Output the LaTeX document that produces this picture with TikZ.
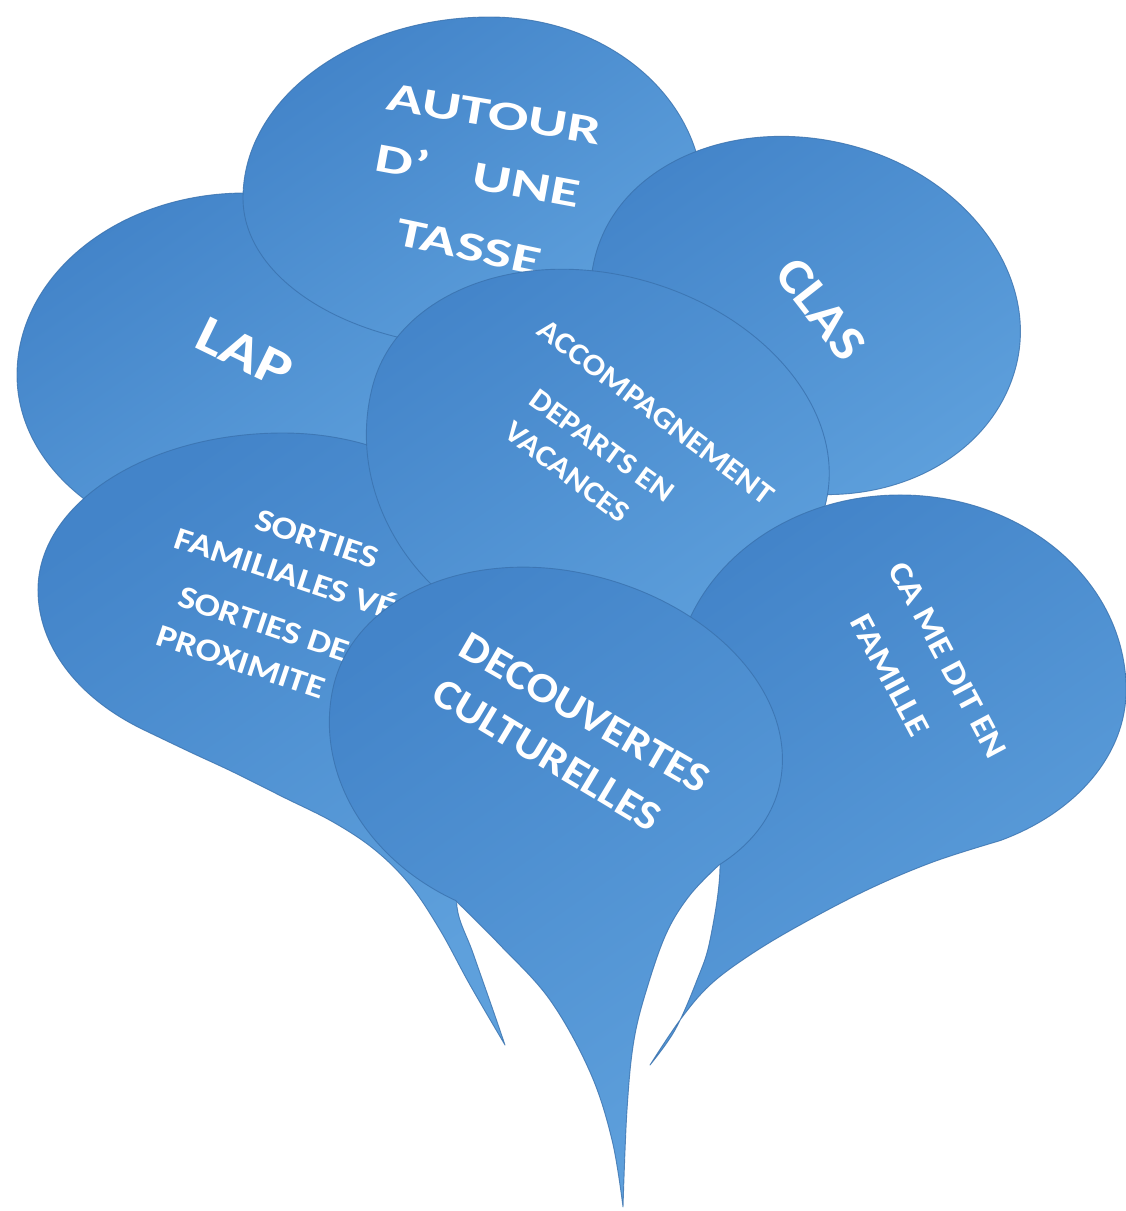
\documentclass[tikz,border=0pt]{standalone}
\usepackage{fontspec}
\setmainfont{Carlito}
\definecolor{bubDark}{HTML}{4384C9}
\definecolor{bubLight}{HTML}{5EA0DC}
\definecolor{bubEdge}{HTML}{3A72AE}
\newcommand\fsz[1]{\fontsize{#1}{#1}\selectfont\bfseries}
\begin{document}
\begin{tikzpicture}[x=1pt,y=-1pt,
  bubble/.style={top color=bubDark, bottom color=bubLight, shading angle=35,
                 draw=bubEdge, draw opacity=0.8, line width=0.9pt, line join=round},
  lbl/.style={text=white, inner sep=0pt, outer sep=0pt}]
\useasboundingbox (0,0) rectangle (1126,1211);
\fill[white] (0,0) rectangle (1126,1211);

% ---------- LAP
\path[bubble] (473,375)
  arc[start angle=0,end angle=90,x radius=228pt,y radius=182pt]
  arc[start angle=90,end angle=180,x radius=228pt,y radius=182pt]
  arc[start angle=180,end angle=270,x radius=228pt,y radius=175pt]
  arc[start angle=270,end angle=360,x radius=228pt,y radius=175pt] -- cycle;
\node[lbl, rotate=-26, yscale=0.83, font=\fsz{64}] (lap) at (245,353) {LAP};

% ---------- AUTOUR D'UNE TASSE
\path[bubble] (703,198)
  arc[start angle=0,end angle=90,x radius=213pt,y radius=181pt]
  arc[start angle=90,end angle=180,x radius=247pt,y radius=181pt]
  arc[start angle=180,end angle=270,x radius=247pt,y radius=150pt]
  arc[start angle=270,end angle=360,x radius=213pt,y radius=150pt] -- cycle;
\node[lbl, rotate=-9.5, yscale=0.68, font=\fsz{60}] (aut1) at (494,114) {AUTOUR};
\node[lbl, rotate=-10.5, yscale=0.68, font=\fsz{60}] (aut2) at (478,175) {D’\hspace{0.75em}UNE};
\node[lbl, rotate=-12, yscale=0.68, font=\fsz{60}] (aut3) at (469,247) {TASSE};

% ---------- CLAS
\path[bubble, rotate around={-15:(808,312)}] (1023,312)
  arc[start angle=0,end angle=90,x radius=215pt,y radius=172pt]
  arc[start angle=90,end angle=180,x radius=220pt,y radius=172pt]
  arc[start angle=180,end angle=270,x radius=220pt,y radius=180pt]
  arc[start angle=270,end angle=360,x radius=215pt,y radius=180pt] -- cycle;
\node[lbl, rotate=-52, yscale=0.9, font=\fsz{56}] (clas) at (821,309) {CLAS};

% ---------- SORTIES
\path[bubble] (473.5,670)
  arc[start angle=330,end angle=360,x radius=220pt,y radius=160pt]
  arc[start angle=0,end angle=90,x radius=220pt,y radius=157pt]
  arc[start angle=90,end angle=180,x radius=245pt,y radius=157pt]
  arc[start angle=180,end angle=235,x radius=245pt,y radius=170pt]
  -- plot[smooth, tension=0.6] coordinates {(142.5,729.3) (190,752) (233,772) (283,797) (333,822) (375,850) (410,885) (440,930) (470,985) (505,1045)}
  -- plot[smooth, tension=0.6] coordinates {(505,1045) (493,1010) (473,953) (457,907) (462,860)} -- cycle;
\node[lbl, rotate=-18.5, yscale=0.85, font=\fsz{37.5}] (so1) at (317,539) {SORTIES};
\node[lbl, rotate=-18.5, yscale=0.85, font=\fsz{37.5}] (so2) at (286,571) {FAMILIALES VÉ};
\node[lbl, rotate=-18.5, yscale=0.85, font=\fsz{37.5}] (so3) at (264,624) {SORTIES DE};
\node[lbl, rotate=-18.5, yscale=0.85, font=\fsz{37.5}] (so4) at (241,662) {PROXIMITE};

% ---------- ACCOMPAGNEMENT
\path[bubble, rotate around={-15:(597,445)}] (833,445)
  arc[start angle=0,end angle=90,x radius=236pt,y radius=171pt]
  arc[start angle=90,end angle=180,x radius=232pt,y radius=171pt]
  arc[start angle=180,end angle=270,x radius=232pt,y radius=210pt]
  arc[start angle=270,end angle=360,x radius=236pt,y radius=210pt] -- cycle;
\node[lbl, rotate=-37, yscale=0.9, font=\fsz{33.5}] (acc1) at (656,412) {ACCOMPAGNEMENT};
\node[lbl, rotate=-36, yscale=0.9, font=\fsz{33.5}] (acc2) at (602,446) {DEPARTS EN};
\node[lbl, rotate=-37, yscale=0.9, font=\fsz{33.5}] (acc3) at (567,472) {VACANCES};

% ---------- CA ME DIT EN FAMILLE
\path[bubble] (999.9,840.7)
  arc[start angle=296.2,end angle=360,x radius=226pt,y radius=168pt]
  arc[start angle=0,end angle=90,x radius=226pt,y radius=195pt]
  arc[start angle=90,end angle=180,x radius=226pt,y radius=195pt]
  arc[start angle=180,end angle=200,x radius=226pt,y radius=150pt]
  -- plot[smooth, tension=0.6] coordinates {(687.6,741.3) (712,800) (720,867) (710,940) (697,980) (675,1030) (650,1065)}
  -- plot[smooth, tension=0.6] coordinates {(650,1065) (680,1020) (710,985) (750,955) (800,925) (867,890) (933,862) (999.9,840.7)} -- cycle;
\node[lbl, rotate=-62, yscale=0.85, font=\fsz{38}] (ca1) at (948,660) {CA ME DIT EN};
\node[lbl, rotate=-62, yscale=0.85, font=\fsz{38}] (ca2) at (890,675) {FAMILLE};

% ---------- DECOUVERTES CULTURELLES
\coordinate (dL0) at (456,901);
\coordinate (dL1) at (500,945);
\coordinate (dL2) at (550,1000);
\coordinate (dL3) at (590,1072);
\coordinate (dL4) at (612,1140);
\coordinate (dTip) at (623,1207);
\coordinate (dR1) at (627,1110);
\coordinate (dR2) at (634,1040);
\coordinate (dR3) at (648,985);
\coordinate (dR4) at (667,932);
\coordinate (dR5) at (690,895);
\coordinate (dR0) at (719,865);
\path[bubble, rotate around={-12:(550,735)}] (742.5,826.8)
  arc[start angle=325,end angle=360,x radius=235pt,y radius=160pt]
  arc[start angle=0,end angle=90,x radius=235pt,y radius=165pt]
  arc[start angle=90,end angle=180,x radius=222pt,y radius=165pt]
  arc[start angle=180,end angle=255,x radius=222pt,y radius=188pt]
  -- plot[smooth, tension=0.6] coordinates {(dL0) (dL1) (dL2) (dL3) (dL4) (dTip)}
  -- plot[smooth, tension=0.6] coordinates {(dTip) (dR1) (dR2) (dR3) (dR4) (dR5) (dR0)} -- cycle;
\node[lbl, rotate=-30, yscale=0.9, font=\fsz{46.5}] (dec1) at (585,713) {DECOUVERTES};
\node[lbl, rotate=-31, yscale=0.9, font=\fsz{46.5}] (dec2) at (547,755) {CULTURELLES};
\end{tikzpicture}
\end{document}
